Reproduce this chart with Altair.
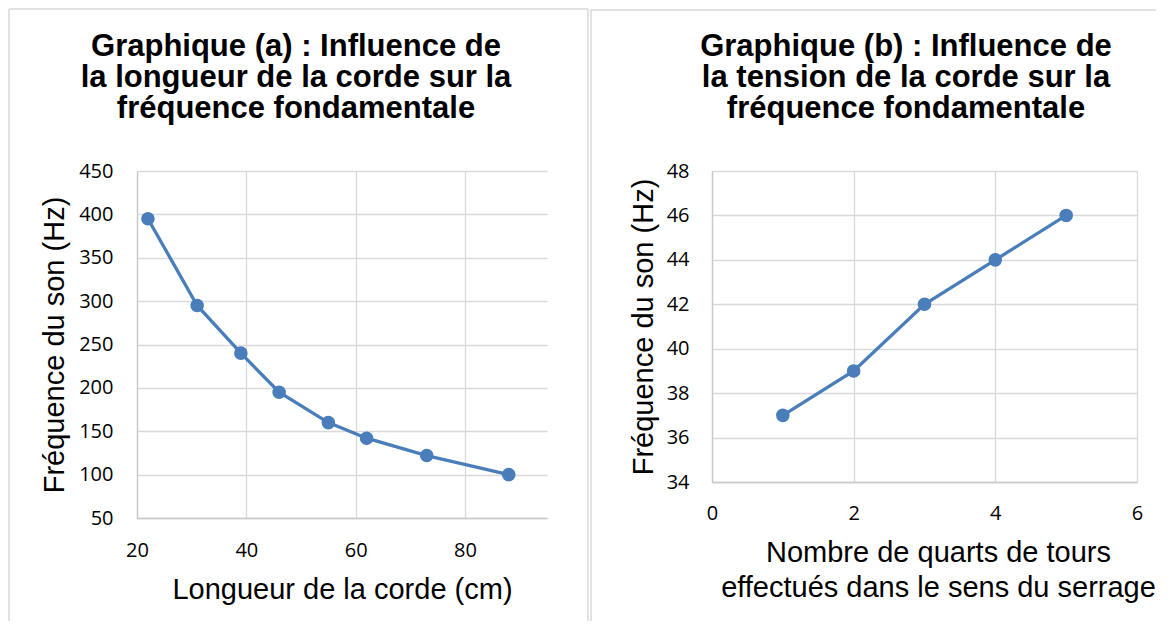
import altair as alt
import pandas as pd

# ---------------- data ----------------
# Graphique (a)
longueur_cm = [22, 31, 39, 46, 55, 62, 73, 88]
frequence_a_hz = [395, 295, 240, 195, 160, 142, 122, 100]

# Graphique (b)
quarts_de_tours = [1, 2, 3, 4, 5]
frequence_b_hz = [37, 39, 42, 44, 46]

title_a = ["Graphique (a) : Influence de", "la longueur de la corde sur la", "fréquence fondamentale"]
title_b = ["Graphique (b) : Influence de", "la tension de la corde sur la", "fréquence fondamentale"]
x_title_a = "Longueur de la corde (cm)"
x_title_b = ["Nombre de quarts de tours", "effectués dans le sens du serrage"]
y_title = "Fréquence du son (Hz)"

ticks_a_x = [20, 40, 60, 80]
ticks_a_y = [50, 100, 150, 200, 250, 300, 350, 400, 450]
ticks_b_x = [0, 2, 4, 6]
ticks_b_y = [34, 36, 38, 40, 42, 44, 46, 48]

# ---------------- style ----------------
BLUE = "#4A7EBB"
GRID = "#D9D9D9"
AXIS = "#C8C8C8"
BORDER = "#D9D9D9"
LABEL_FONT = "Open Sans"
TEXT_FONT = "Liberation Sans"

W_A, H_A = 410, 347
W_B, H_B = 425, 311


def make_axis(values, **kw):
    return alt.Axis(
        values=values, ticks=False, domainColor=AXIS, domainWidth=1.3,
        gridColor=GRID, gridWidth=1.3, labelFont=LABEL_FONT, labelFontSize=20,
        labelColor="black", labelFlush=False, labelOverlap=False,
        titleFont=TEXT_FONT, titleFontSize=29, titleFontWeight="normal",
        titleColor="black", **kw)


def one_row():
    return alt.Chart(pd.DataFrame({"k": [0]}))


def border(x, x2, y, y2):
    return one_row().mark_rule(color=BORDER, strokeWidth=1.5).encode(
        x=alt.value(x), x2=alt.value(x2), y=alt.value(y), y2=alt.value(y2))


def title_text(lines, x, y):
    return one_row().mark_text(
        font=TEXT_FONT, fontSize=31, fontWeight="bold", color="black",
        lineHeight=31, align="center", baseline="top").encode(
        x=alt.value(x), y=alt.value(y), text=alt.value(lines))


def panel(xs, ys, xdom, ydom, xticks, yticks, xtitle, w, h,
          xlab_pad, ylab_pad, xtitle_x, xtitle_y, ytitle_x):
    df = pd.DataFrame({"x": xs, "y": ys})
    xenc = alt.X("x:Q", scale=alt.Scale(domain=xdom, nice=False, zero=False),
                 axis=make_axis(xticks, title=xtitle, labelPadding=xlab_pad,
                                titleX=xtitle_x, titleY=xtitle_y, titleAlign="center",
                                titleBaseline="top", titleLineHeight=35))
    yenc = alt.Y("y:Q", scale=alt.Scale(domain=ydom, nice=False, zero=False),
                 axis=make_axis(yticks, title=y_title, labelPadding=ylab_pad,
                                titleX=ytitle_x, titleY=h / 2, titleAngle=270,
                                titleAlign="center", titleBaseline="middle"))
    base = alt.Chart(df).encode(x=xenc, y=yenc)
    line = base.mark_line(color=BLUE, strokeWidth=3.3)
    pts = base.mark_circle(color=BLUE, size=185, opacity=1)
    return line, pts


line_a, pts_a = panel(longueur_cm, frequence_a_hz, [20, 95], [50, 450], ticks_a_x, ticks_a_y,
                      x_title_a, W_A, H_A, 22, 24, W_A / 2, 57.5, -83)
line_b, pts_b = panel(quarts_de_tours, frequence_b_hz, [0, 6], [34, 48], ticks_b_x, ticks_b_y,
                      x_title_b, W_B, H_B, 21, 23, 226, 56.5, -69)

left = alt.layer(
    border(-128, 451, -162, -162),
    border(-128, -128, -162, 450),
    border(451, 451, -162, 450),
    title_text(title_a, 159, -139),
    line_a, pts_a,
).properties(width=W_A, height=H_A)

right = alt.layer(
    border(-121, 444, -161, -161),
    border(-121, -121, -161, 450),
    title_text(title_b, 194, -139),
    line_b, pts_b,
).properties(width=W_B, height=H_B)

chart = alt.hconcat(left, right, spacing=165, bounds="flush").properties(
    padding=0, background="white"
).configure_view(stroke=None)

chart.save("out.html", embed_options={"renderer": "svg", "actions": False})
